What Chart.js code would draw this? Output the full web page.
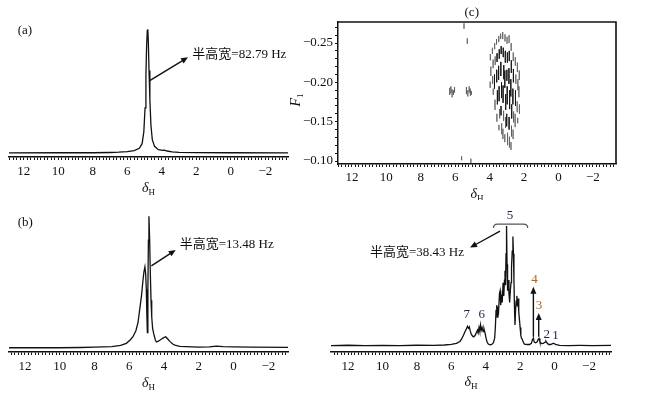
<!DOCTYPE html>
<html>
<head>
<meta charset="utf-8">
<script src="https://cdn.jsdelivr.net/npm/chart.js@4.4.0/dist/chart.umd.min.js"></script>
<style>
html,body{margin:0;padding:0;background:#fff;width:649px;height:394px;overflow:hidden}
canvas{position:absolute}
</style>
</head>
<body>
<canvas id="cA" width="300" height="200" style="left:0;top:0"></canvas>
<canvas id="cC" width="364" height="200" style="left:285px;top:0"></canvas>
<canvas id="cB" width="300" height="200" style="left:0;top:195px"></canvas>
<canvas id="cD" width="364" height="200" style="left:285px;top:195px"></canvas>
<script>
// tick labels
var shiftLabels = [12, 10, 8, 6, 4, 2, 0, -2];
var f1Labels = [-0.25, -0.20, -0.15, -0.10];

// (a) 1H spectrum, [shift ppm, intensity]
var specA = [[12.85,0.001],[10,0.002],[8,0.002],[7,0.004],[6.5,0.006],[6,0.01],[5.6,0.018],[5.3,0.035],
  [5.14,0.07],[5.04,0.16],[4.97,0.34],[4.92,0.58],[4.88,0.8],[4.84,0.92],[4.81,0.93],[4.78,0.84],
  [4.74,0.62],[4.69,0.4],[4.63,0.21],[4.55,0.1],[4.42,0.05],[4.2,0.025],[3.95,0.02],[3.84,0.022],
  [3.7,0.015],[3.4,0.008],[3,0.005],[2,0.003],[0,0.002],[-3.31,0.001]];

// (b)
var specB = [[12.92,0.002],[10,0.002],[8.8,0.004],[8,0.006],[7,0.01],[6.5,0.02],[6.17,0.035],[5.95,0.06],
  [5.79,0.085],[5.62,0.13],[5.5,0.19],[5.4,0.29],[5.3,0.39],[5.22,0.5],[5.16,0.57],[5.1,0.61],
  [5.06,0.56],[5.02,0.44],[4.99,0.25],[4.96,0.115],[4.93,0.45],[4.9,0.81],[4.87,0.99],[4.83,0.82],
  [4.79,0.56],[4.75,0.36],[4.71,0.235],[4.66,0.15],[4.6,0.11],[4.5,0.06],[4.44,0.045],[4.35,0.05],
  [4.25,0.058],[4.12,0.07],[4.02,0.078],[3.9,0.085],[3.8,0.07],[3.67,0.05],[3.5,0.03],[3.38,0.022],
  [3.1,0.012],[2.72,0.01],[2.4,0.008],[1.95,0.006],[1.4,0.008],[0.99,0.014],[0.6,0.01],[0,0.008],
  [-1,0.006],[-3.13,0.005]];

// (d)
var specD = [[12.99,0.004],[12,0.006],[11,0.003],[10,0.005],[9,0.003],[8,0.006],[7,0.005],[6.4,0.008],
  [6,0.012],[5.7,0.02],[5.5,0.035],[5.4,0.055],[5.3,0.08],[5.2,0.11],[5.12,0.13],[5.06,0.15],
  [5.0,0.135],[4.95,0.145],[4.9,0.115],[4.84,0.09],[4.76,0.075],[4.7,0.07],[4.62,0.08],[4.55,0.1],
  [4.48,0.12],[4.44,0.1],[4.39,0.14],[4.35,0.115],[4.3,0.16],[4.26,0.12],[4.21,0.14],[4.15,0.11],
  [4.1,0.13],[4.04,0.1],[3.98,0.06],[3.92,0.03],[3.85,0.015],[3.75,0.01],[3.65,0.012],[3.55,0.025],
  [3.48,0.06],[3.44,0.14],[3.4,0.27],[3.36,0.31],[3.33,0.22],[3.29,0.3],[3.25,0.27],[3.2,0.4],
  [3.16,0.42],[3.13,0.31],[3.08,0.39],[3.04,0.33],[2.99,0.48],[2.95,0.38],[2.91,0.5],[2.88,0.57],
  [2.85,0.46],[2.82,0.7],[2.79,0.91],[2.76,0.62],[2.73,0.42],[2.69,0.5],[2.65,0.4],[2.61,0.33],
  [2.57,0.42],[2.53,0.48],[2.5,0.6],[2.46,0.72],[2.42,0.83],[2.39,0.7],[2.36,0.5],[2.33,0.3],
  [2.3,0.16],[2.27,0.26],[2.23,0.34],[2.19,0.38],[2.16,0.3],[2.12,0.36],[2.08,0.26],[2.04,0.2],
  [2.0,0.14],[1.96,0.08],[1.92,0.06],[1.87,0.05],[1.82,0.03],[1.75,0.015],[1.6,0.012],[1.45,0.012],
  [1.35,0.02],[1.28,0.05],[1.23,0.06],[1.18,0.03],[1.1,0.025],[1.02,0.03],[0.95,0.05],[0.9,0.058],
  [0.85,0.03],[0.75,0.018],[0.65,0.02],[0.55,0.03],[0.5,0.037],[0.44,0.025],[0.35,0.012],[0.22,0.012],
  [0.12,0.018],[0.07,0.022],[0.02,0.018],[-0.1,0.01],[-0.3,0.005],[-0.8,0.004],[-1.5,0.005],
  [-2.2,0.004],[-3.28,0.005]];

// (c) contour dashes: [shift, F1 from, F1 to]
var crossOuter = [
  [5.49,-0.275,-0.268],[5.30,-0.256,-0.249],[5.63,-0.106,-0.101],[5.09,-0.103,-0.097],
  [6.32,-0.193,-0.184],[6.25,-0.195,-0.186],[6.18,-0.191,-0.181],[6.10,-0.190,-0.184],[6.04,-0.194,-0.187],
  [5.35,-0.194,-0.185],[5.27,-0.190,-0.182],[5.19,-0.195,-0.187],[5.12,-0.192,-0.183],[5.06,-0.189,-0.184],
  [3.96,-0.236,-0.228],[3.93,-0.220,-0.208],[3.97,-0.201,-0.193],
  [3.84,-0.244,-0.236],[3.80,-0.229,-0.218],[3.83,-0.208,-0.198],[3.79,-0.192,-0.184],
  [3.71,-0.250,-0.242],[3.68,-0.233,-0.222],[3.69,-0.178,-0.165],
  [3.60,-0.255,-0.248],[3.58,-0.160,-0.150],
  [3.47,-0.259,-0.251],[3.42,-0.166,-0.154],[3.46,-0.146,-0.139],
  [3.36,-0.262,-0.255],[3.30,-0.148,-0.134],
  [3.24,-0.264,-0.255],[3.19,-0.164,-0.151],[3.23,-0.141,-0.128],
  [3.11,-0.261,-0.252],[3.08,-0.156,-0.142],[3.12,-0.134,-0.124],
  [2.99,-0.258,-0.249],[2.96,-0.136,-0.120],
  [2.87,-0.260,-0.250],[2.85,-0.131,-0.117],
  [2.75,-0.250,-0.240],[2.73,-0.145,-0.131],[2.76,-0.124,-0.114],
  [2.63,-0.238,-0.227],[2.61,-0.163,-0.149],[2.64,-0.140,-0.128],
  [2.51,-0.232,-0.221],[2.48,-0.210,-0.198],[2.52,-0.160,-0.143],
  [2.39,-0.225,-0.213],[2.36,-0.204,-0.190],[2.40,-0.176,-0.162],[2.37,-0.155,-0.148],
  [2.28,-0.215,-0.203],[2.30,-0.195,-0.181],[2.27,-0.172,-0.160]
];
var crossCore = [
  [3.72,-0.210,-0.192],[3.57,-0.237,-0.226],[3.59,-0.216,-0.200],[3.55,-0.190,-0.172],
  [3.44,-0.242,-0.230],[3.48,-0.221,-0.203],[3.45,-0.195,-0.176],
  [3.33,-0.246,-0.236],[3.35,-0.226,-0.208],[3.31,-0.200,-0.180],[3.34,-0.170,-0.158],
  [3.21,-0.244,-0.232],[3.18,-0.222,-0.204],[3.22,-0.196,-0.174],
  [3.09,-0.240,-0.225],[3.12,-0.215,-0.193],[3.07,-0.185,-0.165],
  [2.97,-0.238,-0.225],[3.00,-0.216,-0.202],[2.98,-0.195,-0.172],[3.01,-0.160,-0.144],
  [2.86,-0.240,-0.227],[2.88,-0.218,-0.198],[2.84,-0.190,-0.166],[2.87,-0.156,-0.140],
  [2.74,-0.228,-0.212],[2.77,-0.204,-0.182],[2.72,-0.172,-0.154],
  [2.62,-0.217,-0.200],[2.65,-0.192,-0.172],[2.50,-0.190,-0.170]
];

var serif = "'Liberation Serif', 'Noto Sans CJK SC', serif";
var ink = '#111';
var navy = '#1c2340';
var orange = '#b5651d';

function font(size, italic){ return (italic ? 'italic ' : '') + size + 'px ' + serif; }
function minus(s){ return String(s).replace('-', '\u2212'); }

function drawArrow(ctx, x1, y1, x2, y2, color){
  var a = Math.atan2(y2 - y1, x2 - x1), L = 7, W = 3;
  ctx.strokeStyle = color; ctx.fillStyle = color; ctx.lineWidth = 1.4;
  ctx.beginPath(); ctx.moveTo(x1, y1); ctx.lineTo(x2 - L * 0.7 * Math.cos(a), y2 - L * 0.7 * Math.sin(a)); ctx.stroke();
  ctx.beginPath(); ctx.moveTo(x2, y2);
  ctx.lineTo(x2 - L * Math.cos(a) + W * Math.sin(a), y2 - L * Math.sin(a) - W * Math.cos(a));
  ctx.lineTo(x2 - L * Math.cos(a) - W * Math.sin(a), y2 - L * Math.sin(a) + W * Math.cos(a));
  ctx.closePath(); ctx.fill();
}

function subText(ctx, main, sub, cx, cy){
  ctx.font = font(14, true); var w1 = ctx.measureText(main).width;
  ctx.font = font(9); var w2 = ctx.measureText(sub).width;
  var x = cx - (w1 + w2) / 2;
  ctx.textAlign = 'left'; ctx.textBaseline = 'alphabetic'; ctx.fillStyle = ink;
  ctx.font = font(14, true); ctx.fillText(main, x, cy);
  ctx.font = font(9); ctx.fillText(sub, x + w1, cy + 3);
}

// annotation layer drawn in data units through the chart's own scales
function notes(items){
  return {
    id: 'notes',
    afterDraw: function(chart){
      var ctx = chart.ctx, ca = chart.chartArea, sx = chart.scales.x, sy = chart.scales.y;
      var px = function(v){ return sx.getPixelForValue(v); };
      var py = function(v){ return sy.getPixelForValue(v); };
      ctx.save();
      items.forEach(function(n){
        if (n.type === 'text'){
          ctx.font = font(n.size || 13); ctx.fillStyle = n.color || ink;
          ctx.textAlign = n.align || 'left'; ctx.textBaseline = 'middle';
          ctx.fillText(n.text, px(n.x), py(n.y));
        } else if (n.type === 'arrow'){
          drawArrow(ctx, px(n.x1), py(n.y1), px(n.x2), py(n.y2), n.color || ink);
        } else if (n.type === 'title'){
          subText(ctx, '\u03b4', 'H', (ca.left + ca.right) / 2, ca.bottom + n.off);
        } else if (n.type === 'vtitle'){
          ctx.translate(n.px, (ca.top + ca.bottom) / 2 + n.off);
          ctx.rotate(-Math.PI / 2);
          subText(ctx, 'F', '1', 0, 5);
          ctx.setTransform(1, 0, 0, 1, 0, 0);
        } else if (n.type === 'box'){
          ctx.strokeStyle = ink; ctx.lineWidth = 1.6;
          ctx.beginPath();
          ctx.moveTo(ca.left, ca.top); ctx.lineTo(ca.right, ca.top); ctx.lineTo(ca.right, ca.bottom);
          ctx.stroke();
        } else if (n.type === 'brace'){
          var x1 = px(n.x1), x2 = px(n.x2), y = py(n.y);
          ctx.strokeStyle = '#555'; ctx.lineWidth = 1.2;
          ctx.beginPath();
          ctx.moveTo(x1, y + 4); ctx.quadraticCurveTo(x1, y, x1 + 4, y);
          ctx.lineTo(x2 - 4, y); ctx.quadraticCurveTo(x2, y, x2, y + 4);
          ctx.stroke();
        }
      });
      ctx.restore();
    }
  };
}

function shiftAxis(min, max, h, pad){
  return {
    type: 'linear', reverse: true, min: min, max: max,
    afterBuildTicks: function(s){
      var t = [];
      for (var k = Math.ceil(min * 5); k <= Math.floor(max * 5); k++) t.push({value: k / 5});
      s.ticks = t;
    },
    afterFit: function(s){ s.height = h; },
    ticks: {
      autoSkip: false, maxRotation: 0, padding: pad, color: ink, font: {family: serif, size: 13},
      callback: function(v){
        var r = Math.round(v);
        return (Math.abs(v - r) < 1e-6 && shiftLabels.indexOf(r) >= 0) ? minus(r) : '';
      }
    },
    grid: {drawOnChartArea: false, drawTicks: true, tickLength: 3, tickColor: ink, tickWidth: 1},
    border: {color: ink, width: 1.5}
  };
}

function spectrum(id, data, xr, yr, pad, list){
  return new Chart(document.getElementById(id), {
    type: 'line',
    data: {datasets: [{
      data: data.map(function(p){ return {x: p[0], y: p[1]}; }),
      borderColor: ink, borderWidth: 1.3, pointRadius: 0, tension: 0, fill: false
    }]},
    options: {
      responsive: false, animation: false,
      layout: {padding: pad},
      plugins: {legend: {display: false}, tooltip: {enabled: false}},
      scales: {
        x: shiftAxis(xr[0], xr[1], 43, 4),
        y: {type: 'linear', display: false, min: yr[0], max: yr[1]}
      }
    },
    plugins: [notes(list)]
  });
}

spectrum('cA', specA, [-3.31, 12.85], [-0.03, 1.0], {left: 9, right: 12, top: 20, bottom: 0}, [
  {type: 'text', text: '(a)', x: 12.35, y: 0.92},
  {type: 'arrow', x1: 4.70, y1: 0.544, x2: 2.48, y2: 0.72},
  {type: 'text', text: '半高宽=82.79 Hz', x: 2.23, y: 0.737},
  {type: 'title', off: 35}
]);

spectrum('cB', specB, [-3.13, 12.92], [-0.03, 1.0], {left: 9, right: 12, top: 20, bottom: 0}, [
  {type: 'text', text: '(b)', x: 12.42, y: 0.94},
  {type: 'arrow', x1: 4.73, y1: 0.617, x2: 3.33, y2: 0.737},
  {type: 'text', text: '半高宽=13.48 Hz', x: 3.10, y: 0.78},
  {type: 'title', off: 35}
]);

spectrum('cD', specD, [-3.28, 12.99], [-0.045, 0.993], {left: 46, right: 38, top: 20, bottom: 0}, [
  {type: 'brace', x1: 3.55, x2: 1.56, y: 0.924},
  {type: 'text', text: '5', x: 2.59, y: 0.987, align: 'center', color: navy},
  {type: 'arrow', x1: 3.17, y1: 0.87, x2: 4.91, y2: 0.746},
  {type: 'text', text: '半高宽=38.43 Hz', x: 5.26, y: 0.71, align: 'right'},
  {type: 'text', text: '7', x: 5.1, y: 0.237, align: 'center', color: navy},
  {type: 'text', text: '6', x: 4.23, y: 0.237, align: 'center', color: navy},
  {type: 'arrow', x1: 1.23, y1: 0.07, x2: 1.23, y2: 0.45, color: ink},
  {type: 'text', text: '4', x: 1.17, y: 0.5, align: 'center', color: orange},
  {type: 'arrow', x1: 0.92, y1: 0.07, x2: 0.92, y2: 0.25, color: ink},
  {type: 'text', text: '3', x: 0.9, y: 0.31, align: 'center', color: orange},
  {type: 'text', text: '2', x: 0.46, y: 0.09, align: 'center', color: navy},
  {type: 'text', text: '1', x: -0.06, y: 0.076, align: 'center', color: navy},
  {type: 'title', off: 34}
]);

// (c) map built from the dash lists, broken into separate strokes
function dashes(list){
  var out = [];
  list.forEach(function(c){
    out.push({x: c[0], y: c[1]}, {x: c[0], y: c[2]}, {x: c[0], y: null});
  });
  return out;
}

new Chart(document.getElementById('cC'), {
  type: 'line',
  data: {datasets: [
    {data: dashes(crossOuter), borderColor: 'rgba(70,70,70,0.55)', borderWidth: 0.9, pointRadius: 0,
      tension: 0, fill: false, spanGaps: false},
    {data: dashes(crossCore), borderColor: 'rgba(20,20,20,0.8)', borderWidth: 1, pointRadius: 0,
      tension: 0, fill: false, spanGaps: false}
  ]},
  options: {
    responsive: false, animation: false,
    layout: {padding: {left: 0, right: 33, top: 22, bottom: 0}},
    plugins: {legend: {display: false}, tooltip: {enabled: false}},
    scales: {
      x: shiftAxis(-3.34, 12.81, 36, 3),
      y: {
        type: 'linear', reverse: true, min: -0.2767, max: -0.0962,
        afterBuildTicks: function(s){
          var t = [];
          for (var k = -27; k <= -10; k++) t.push({value: k / 100});
          s.ticks = t;
        },
        afterFit: function(s){ s.width = 53; },
        ticks: {
          autoSkip: false, padding: 2, color: ink, font: {family: serif, size: 13},
          callback: function(v){
            var hit = f1Labels.filter(function(l){ return Math.abs(l - v) < 1e-6; });
            return hit.length ? minus(hit[0].toFixed(2)) : '';
          }
        },
        grid: {drawOnChartArea: false, drawTicks: true, tickLength: 3, tickColor: ink, tickWidth: 1},
        border: {color: ink, width: 1.5}
      }
    }
  },
  plugins: [notes([
    {type: 'box'},
    {type: 'text', text: '(c)', x: 5.04, y: -0.289, align: 'center'},
    {type: 'vtitle', px: 10, off: 7},
    {type: 'title', off: 34}
  ])]
});
</script>
</body>
</html>
